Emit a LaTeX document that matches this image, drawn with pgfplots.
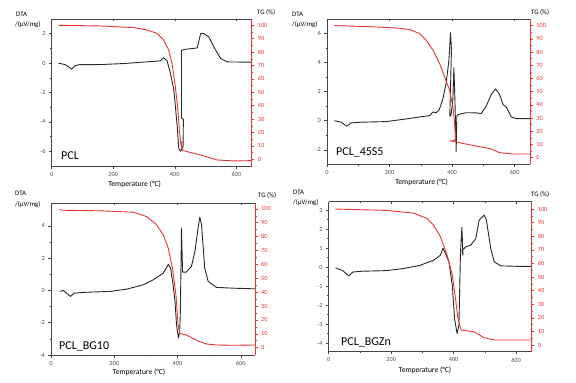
\documentclass[border=0pt]{standalone}
\usepackage{pgfplots}
\pgfplotsset{compat=1.18}
\usepackage{fontspec}
\setmainfont{Carlito}
\definecolor{tgred}{RGB}{232,52,52}
\definecolor{dtablack}{RGB}{40,40,40}
\definecolor{axgray}{RGB}{70,70,70}
\definecolor{lblgray}{RGB}{80,80,80}
\pgfplotsset{
  base/.style={scale only axis, anchor=south west, xmin=0, xmax=650,
    /pgf/number format/assume math mode=true,
    tick align=outside, major tick length=2.6pt, minor tick length=1.5pt,
    tick label style={font=\fontsize{6.3}{7}\selectfont},
  },
  dta/.style={base, axis x line*=bottom, axis y line*=left,
    axis line style={draw=axgray, line width=0.6pt, -},
    tick style={draw=axgray, line width=0.5pt},
    xtick={0,200,400,600}, minor x tick num=1, minor y tick num=1,
    tick label style={text=lblgray},
    xticklabel style={yshift=0pt},
  },
  tg/.style={base, axis x line=none, axis y line*=right,
    axis line style={draw=tgred, line width=0.6pt, -},
    tick style={draw=tgred, line width=0.5pt},
    ytick={0,10,...,100}, minor y tick num=1,
    tick label style={text=tgred},
  },
  topx/.style={scale only axis, anchor=south west, xmin=0, xmax=650, ymin=0, ymax=1,
    axis x line*=top, axis y line=none, xtick={0,200,400,600}, minor x tick num=1,
    xticklabels={}, tick align=inside, major tick length=2pt, minor tick length=1.2pt,
    axis line style={draw=axgray, line width=0.6pt, -}, tick style={draw=axgray, line width=0.5pt}},
  dline/.style={draw=dtablack, line width=0.9pt, line join=round},
  tline/.style={draw=tgred, line width=0.9pt, line join=round},
}
\newcommand{\smalltxt}{\fontsize{6.8}{8}\selectfont}
\newcommand{\xlab}{\fontsize{7.6}{9}\selectfont}
\newcommand{\name}{\fontsize{12}{14}\selectfont}
\begin{document}
\begin{tikzpicture}[x=1pt,y=1pt]
\path[use as bounding box] (0pt,0pt) rectangle (576pt,383pt);
% ---------------- Panel 1: PCL ----------------
\begin{axis}[dta, at={(51.7pt,217pt)}, width=200pt, height=147pt, ymin=-7, ymax=3, ytick={-6,-4,...,2}]
\addplot[dline] coordinates {(21.7,0.0)(43,-0.1)(55,-0.25)(65,-0.42)(70,-0.3)(76,-0.17)(92,-0.1)(158,-0.1)(234,-0.03)(321,0.1)(353,0.15)(364,0.37)(375,0.15)(386,-0.7)(397,-1.83)(408,-4.3)(413,-5.8)(418.5,-6.0)(424,-5.8)(427,-5.66)(428,-3.82)(422,-3.75)(422,0.87)(435,0.94)(473,1.03)(484,2.0)(495,2.0)(511,1.77)(527,1.1)(549,0.31)(571,0.08)(650,0.06)};
\end{axis}
\begin{axis}[tg, at={(51.7pt,217pt)}, width=200pt, height=147pt, ymin=-5, ymax=104.7]
\addplot[tline] coordinates {(21.7,100)(158,99.5)(266,98.3)(310,96.5)(342,94)(364,89)(380,81.6)(391,71.6)(402,54)(410,36.8)(415,21.9)(418.5,14.4)(420,11)(423,13)(422,9)(426,6.5)(440,5.7)(484,3.2)(538,-0.5)(592,-1.2)(650,-1)};
\end{axis}
\begin{axis}[topx, at={(51.7pt,217pt)}, width=200pt, height=147pt]
\end{axis}
\node[anchor=west, inner sep=0pt, text=black] at (16pt,368.5pt) {\smalltxt DTA};
\node[anchor=west, inner sep=0pt, text=black] at (15pt,358pt) {\smalltxt /(µV/mg)};
\node[anchor=west, inner sep=0pt, text=black] at (257pt,370.5pt) {\smalltxt TG (\%)};
\node[inner sep=0pt, text=black] at (134.7pt,199pt) {\xlab Temperature (°C)};
\node[anchor=west, inner sep=0pt, text=black] at (61pt,227pt) {\name PCL};
% ---------------- Panel 2: PCL_45S5 ----------------
\begin{axis}[dta, at={(327pt,218.7pt)}, width=203.3pt, height=145.3pt, ymin=-3, ymax=7, ytick={-2,0,...,6}]
\addplot[dline] coordinates {(23.5,0)(45,-0.1)(63,-0.38)(77,-0.15)(114,-0.1)(189,-0.06)(253,0.12)(296,0.26)(328,0.35)(339,0.6)(349,0.54)(359,0.77)(370,1.46)(381,2.6)(390,4.2)(395,6.07)(398,4.9)(393,0.7)(393,0.3)(397,0.42)(402.5,1.46)(405.7,3.64)(409,1.46)(413,-2.12)(415,0.3)(418.5,0.42)(445,0.55)(477,0.54)(493,0.49)(509,1.0)(525,1.8)(539,2.19)(552,1.8)(563,1.1)(573,0.95)(589,0.26)(605,0.14)(650,0.14)};
\end{axis}
\begin{axis}[tg, at={(327pt,218.7pt)}, width=203.3pt, height=145.3pt, ymin=-5, ymax=105]
\addplot[tline] coordinates {(23.5,100)(136,99.2)(221,98.2)(264,97)(296,94)(317,88.9)(339,81.4)(360,71.3)(376,61.2)(392,51.1)(402.5,38.5)(408,26)(411,14.6)(406,12.9)(392,12.8)(405,12.4)(424,11.3)(488,8.3)(520,7)(552,3.8)(595,2.8)(650,2.8)};
\end{axis}
\begin{axis}[topx, at={(327pt,218.7pt)}, width=203.3pt, height=145.3pt]
\end{axis}
\node[anchor=west, inner sep=0pt, text=black] at (292pt,368.5pt) {\smalltxt DTA};
\node[anchor=west, inner sep=0pt, text=black] at (292pt,358pt) {\smalltxt /(µV/mg)};
\node[anchor=west, inner sep=0pt, text=black] at (531pt,370.5pt) {\smalltxt TG (\%)};
\node[inner sep=0pt, text=black] at (421.7pt,200.3pt) {\xlab Temperature (°C)};
\node[anchor=west, inner sep=0pt, text=black] at (336pt,230.5pt) {\name PCL\_45S5};
% ---------------- Panel 3: PCL_BG10 ----------------
\begin{axis}[dta, at={(51pt,28pt)}, width=204pt, height=151.7pt, xmax=645, ymin=-4, ymax=5.4, ytick={-4,-2,...,4}]
\addplot[dline] coordinates {(28,-0.06)(39,0)(49.5,-0.17)(62,-0.37)(73,-0.17)(102,-0.12)(186,-0.06)(239,0.08)(292,0.35)(323,0.66)(355,1.07)(371,1.62)(378,1.38)(386,0.35)(392,-0.68)(397,-2.13)(403,-2.95)(407,-2.54)(409,-1.3)(412.6,3.86)(416,1.14)(428,1.14)(444,1.49)(455,2.42)(465,3.86)(470.5,4.55)(476,4.07)(486,1.38)(497,0.56)(523,0.19)(576,0.14)(645,0.1)};
\end{axis}
\begin{axis}[tg, at={(51pt,28pt)}, width=204pt, height=151.7pt, xmax=645, ymin=-5.3, ymax=104]
\addplot[tline] coordinates {(28,99.8)(33,99)(155,98.6)(260,97.6)(302,94.5)(334,88.5)(355,81.2)(371,71.6)(384,57.2)(395,38)(402,16.3)(407,10.3)(428,9.1)(449,6.7)(470.5,4.3)(492,2.6)(523,1.9)(576,1.7)(645,1.9)};
\end{axis}
\begin{axis}[topx, at={(51pt,28pt)}, width=204pt, height=151.7pt, xmax=645]
\end{axis}
\node[anchor=west, inner sep=0pt, text=black] at (15pt,190pt) {\smalltxt DTA};
\node[anchor=west, inner sep=0pt, text=black] at (15pt,178pt) {\smalltxt /(µV/mg)};
\node[anchor=west, inner sep=0pt, text=black] at (258pt,188pt) {\smalltxt TG (\%)};
\node[inner sep=0pt, text=black] at (139pt,11pt) {\xlab Temperature (°C)};
\node[anchor=west, inner sep=0pt, text=black] at (59pt,37pt) {\name PCL\_BG10};
% ---------------- Panel 4: PCL_BGZn ----------------
\begin{axis}[dta, at={(328.7pt,31.3pt)}, width=203pt, height=150pt, ymin=-4.45, ymax=3.45, ytick={-4,-3,...,3}]
\addplot[dline] coordinates {(21.5,-0.04)(45,-0.18)(64.6,-0.46)(77.6,-0.25)(110,-0.21)(185,-0.18)(239,-0.07)(293,0.1)(336,0.37)(357.7,0.63)(366,1.0)(374,0.72)(385,0.28)(395.8,-0.95)(403,-2.7)(411,-3.49)(417,-3.05)(422,0.81)(426.5,2.1)(429.8,0.63)(427,0.85)(438,1.07)(454.6,1.16)(470.7,1.5)(481.5,2.47)(497.7,2.75)(505,2.47)(519,0.98)(530,0.28)(551.5,0.07)(616,0.04)(650,0.04)};
\end{axis}
\begin{axis}[tg, at={(328.7pt,31.3pt)}, width=203pt, height=150pt, ymin=-4.9, ymax=105.4]
\addplot[tline] coordinates {(21.5,100)(185,99)(271.5,97)(314.6,93.1)(336,88.2)(357.7,79.7)(379,66.2)(395.8,51.5)(406,34.3)(413.6,19.6)(420,14.2)(424.4,11)(465,9.8)(497.7,5.4)(530,3.7)(650,3.7)};
\end{axis}
\begin{axis}[topx, at={(328.7pt,31.3pt)}, width=203pt, height=150pt]
\end{axis}
\node[anchor=west, inner sep=0pt, text=black] at (293pt,191pt) {\smalltxt DTA};
\node[anchor=west, inner sep=0pt, text=black] at (293pt,180pt) {\smalltxt /(µV/mg)};
\node[anchor=west, inner sep=0pt, text=black] at (531pt,189pt) {\smalltxt TG (\%)};
\node[inner sep=0pt, text=black] at (425pt,13pt) {\xlab Temperature (°C)};
\node[anchor=west, inner sep=0pt, text=black] at (341pt,40.5pt) {\name PCL\_BGZn};
\end{tikzpicture}
\end{document}
